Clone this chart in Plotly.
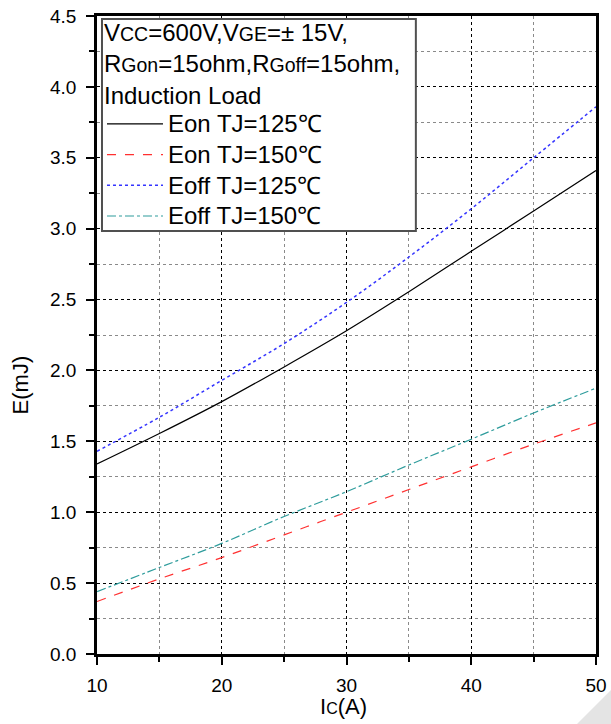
import plotly.graph_objects as go

ic = [10, 15, 20, 25, 30, 35, 40, 45, 50]
eon_125 = [1.34, 1.555, 1.78, 2.025, 2.28, 2.555, 2.84, 3.125, 3.41]
eon_150 = [0.37, 0.53, 0.68, 0.84, 1.00, 1.16, 1.32, 1.48, 1.63]
eoff_125 = [1.43, 1.67, 1.93, 2.19, 2.48, 2.80, 3.14, 3.50, 3.86]
eoff_150 = [0.44, 0.61, 0.78, 0.97, 1.145, 1.333, 1.515, 1.70, 1.875]

names = ["Eon TJ=125℃", "Eon TJ=150℃", "Eoff TJ=125℃", "Eoff TJ=150℃"]
series = [eon_125, eon_150, eoff_125, eoff_150]
colors = ["#000000", "#ff3030", "#3535ff", "#2e9c9c"]
dashes = ["solid", "dash", "dot", "dashdot"]
widths = [1.2, 1.2, 1.5, 1.2]

FONT = "Liberation Sans, Arial, sans-serif"
BIG = "<span style='font-size:24px'>"

fig = go.Figure()
for n, s, c, d, w in zip(names, series, colors, dashes, widths):
    fig.add_trace(go.Scatter(x=ic, y=s, mode="lines", name=BIG + n + "</span>",
                             line=dict(color=c, dash=d, width=w, shape="spline")))

sm = "<span style='font-size:19.5px'>"
legend_title = ("V" + sm + "CC</span>=600V,V" + sm + "GE</span>=± 15V,<br>"
                "R" + sm + "Gon</span>=15ohm,R" + sm + "Goff</span>=15ohm,<br>"
                "Induction Load")

fig.update_layout(
    width=611, height=724,
    margin=dict(l=97, r=15, t=16, b=70, autoexpand=False),
    paper_bgcolor="white", plot_bgcolor="white",
    font=dict(family=FONT, color="black"),
    showlegend=True,
    legend=dict(
        x=0.01, y=1.0094, xanchor="left", yanchor="top",
        bgcolor="rgba(0,0,0,0)", borderwidth=0,
        font=dict(size=21.3, family=FONT, color="black"),
        title=dict(text=legend_title, font=dict(size=24, family=FONT, color="black"), side="top"),
        itemwidth=56, tracegroupgap=0,
    ),
    shapes=[
        dict(type="rect", xref="paper", yref="paper", x0=0.010, x1=0.639, y0=0.663, y1=0.9953,
             fillcolor="white", line=dict(color="#505050", width=2), layer="above"),
        dict(type="path", xref="paper", yref="paper",
             path="M0.962,-0.1097 L1.03,-0.1097 L1.03,-0.0564 Z",
             fillcolor="#e4e4e4", line=dict(width=0), layer="below"),
    ],
)

fig.update_xaxes(
    range=[10, 50], dtick=10, tick0=10, automargin=False,
    showline=True, linewidth=2.5, linecolor="black", mirror=True,
    ticks="outside", ticklen=8, tickwidth=2, tickcolor="black",
    tickfont=dict(size=19, family=FONT, color="black"),
    ticklabelstandoff=4,
    showgrid=True, gridcolor="black", griddash="dot", gridwidth=1,
    minor=dict(dtick=5, ticks="outside", ticklen=5, tickwidth=2, tickcolor="black",
               showgrid=True, gridcolor="#8a8a8a", griddash="dot", gridwidth=1),
    zeroline=False,
)
fig.update_yaxes(
    range=[0, 4.5], dtick=0.5, tick0=0, tickformat=".1f", automargin=False,
    showline=True, linewidth=2.5, linecolor="black", mirror=True,
    ticks="outside", ticklen=8, tickwidth=2, tickcolor="black",
    tickfont=dict(size=19, family=FONT, color="black"),
    ticklabelstandoff=6,
    showgrid=True, gridcolor="black", griddash="dot", gridwidth=1,
    minor=dict(dtick=0.25, ticks="outside", ticklen=5, tickwidth=2, tickcolor="black",
               showgrid=True, gridcolor="#8a8a8a", griddash="dot", gridwidth=1),
    zeroline=False,
)

fig.add_annotation(text="I<span style='font-size:16px'>C</span>(A)", xref="paper", yref="paper",
                   x=0.493, y=-0.082, xanchor="center", yanchor="middle", showarrow=False,
                   font=dict(size=22, family=FONT, color="black"))
fig.add_annotation(text="E(mJ)", xref="paper", yref="paper", textangle=-90,
                   x=-0.153, y=0.422, xanchor="center", yanchor="middle", showarrow=False,
                   font=dict(size=22, family=FONT, color="black"))

fig.write_html("out.html")
